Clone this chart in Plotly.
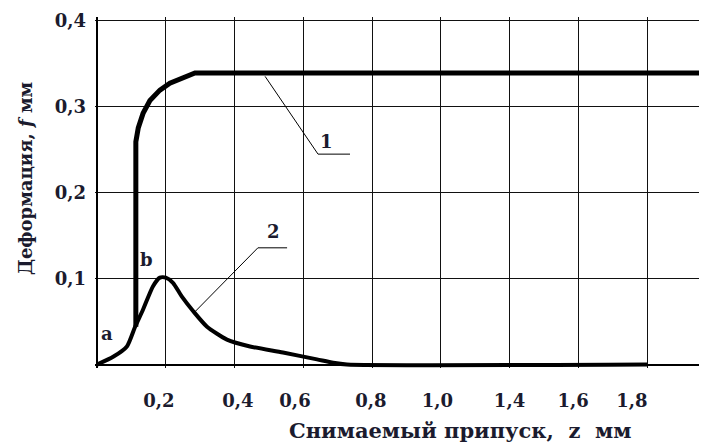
import plotly.graph_objects as go

# ---- data (x in grid units, y in mm) ----
curve1_x = [0.113, 0.113, 0.120, 0.134, 0.154, 0.183, 0.212, 0.250, 0.285, 1.7745]
curve1_y = [0.044, 0.259, 0.275, 0.292, 0.307, 0.319, 0.327, 0.334, 0.339, 0.339]

curve2_x = [0.0, 0.047, 0.087, 0.110, 0.134, 0.163, 0.183, 0.200, 0.221, 0.247,
            0.280, 0.320, 0.378, 0.445, 0.541, 0.640, 0.687, 0.727, 1.6]
curve2_y = [0.0, 0.009, 0.021, 0.043, 0.064, 0.091, 0.101, 0.101, 0.095, 0.079,
            0.062, 0.044, 0.029, 0.021, 0.014, 0.006, 0.002, 0.0, 0.0]

x_tick_pos = [0.180, 0.410, 0.576, 0.797, 0.990, 1.200, 1.385, 1.556]
x_tick_text = ["0,2", "0,4", "0,6", "0,8", "1,0", "1,4", "1,6", "1,8"]
y_tick_pos = [0.1, 0.2, 0.3, 0.4]
y_tick_text = ["0,1", "0,2", "0,3", "0,4"]

# leader lines and labels
leader1_x = [0.489, 0.643, 0.736]
leader1_y = [0.335, 0.2446, 0.2446]
leader2_x = [0.285, 0.468, 0.553]
leader2_y = [0.0614, 0.1357, 0.1357]
labels_text = ["1", "2", "a", "b"]
labels_x = [0.669, 0.512, 0.029, 0.145]
labels_y = [0.2597, 0.155, 0.036, 0.122]

FONT = "DejaVu Serif"
TXT = "#1b1b2e"

fig = go.Figure()
fig.add_trace(go.Scatter(x=curve1_x, y=curve1_y, mode="lines",
                         line=dict(color="black", width=5), showlegend=False))
fig.add_trace(go.Scatter(x=curve2_x, y=curve2_y, mode="lines",
                         line=dict(color="black", width=4, shape="spline", smoothing=0.6),
                         showlegend=False))
fig.add_trace(go.Scatter(x=leader1_x, y=leader1_y, mode="lines",
                         line=dict(color="black", width=1), showlegend=False))
fig.add_trace(go.Scatter(x=leader2_x, y=leader2_y, mode="lines",
                         line=dict(color="black", width=1), showlegend=False))

for t, x, y in zip(labels_text, labels_x, labels_y):
    fig.add_annotation(x=x, y=y, text=t, showarrow=False,
                       xanchor="center", yanchor="middle",
                       font=dict(family=FONT, size=18, color=TXT, weight="bold"))

fig.add_annotation(xref="paper", yref="paper", x=-0.1144, y=0.541,
                   xanchor="center", yanchor="middle",
                   text="Деформация, <i>f</i> мм", textangle=-90, showarrow=False,
                   font=dict(family=FONT, size=18, color=TXT, weight="bold"))
fig.add_annotation(xref="paper", yref="paper", x=0.596, y=-0.177,
                   xanchor="center", yanchor="middle",
                   text="Снимаемый припуск,\u00a0\u00a0z\u00a0\u00a0мм", showarrow=False,
                   font=dict(family=FONT, size=21, color=TXT, weight="bold"))

fig.update_layout(
    width=699, height=438,
    margin=dict(l=87, r=0, t=9, b=78),
    paper_bgcolor="white", plot_bgcolor="white",
    xaxis=dict(range=[-0.0058, 1.7745], tickvals=x_tick_pos, ticktext=x_tick_text,
               showgrid=False, zeroline=True, zerolinecolor="black", zerolinewidth=1.5,
               showline=False, ticks="", ticklabelstandoff=20,
               tickfont=dict(family=FONT, size=18, color=TXT, weight="bold"),
               minor=dict(tick0=0, dtick=0.2, showgrid=True, gridcolor="#111",
                          gridwidth=1.4, ticks=""),
               fixedrange=True),
    yaxis=dict(range=[-0.004, 0.404], tickvals=y_tick_pos, ticktext=y_tick_text,
               showgrid=True, gridcolor="#111", gridwidth=1.4,
               zeroline=True, zerolinecolor="black", zerolinewidth=1.5,
               showline=False, ticks="", ticklabelstandoff=8,
               tickfont=dict(family=FONT, size=18, color=TXT, weight="bold"),
               fixedrange=True),
)

fig.write_html("out.html")
